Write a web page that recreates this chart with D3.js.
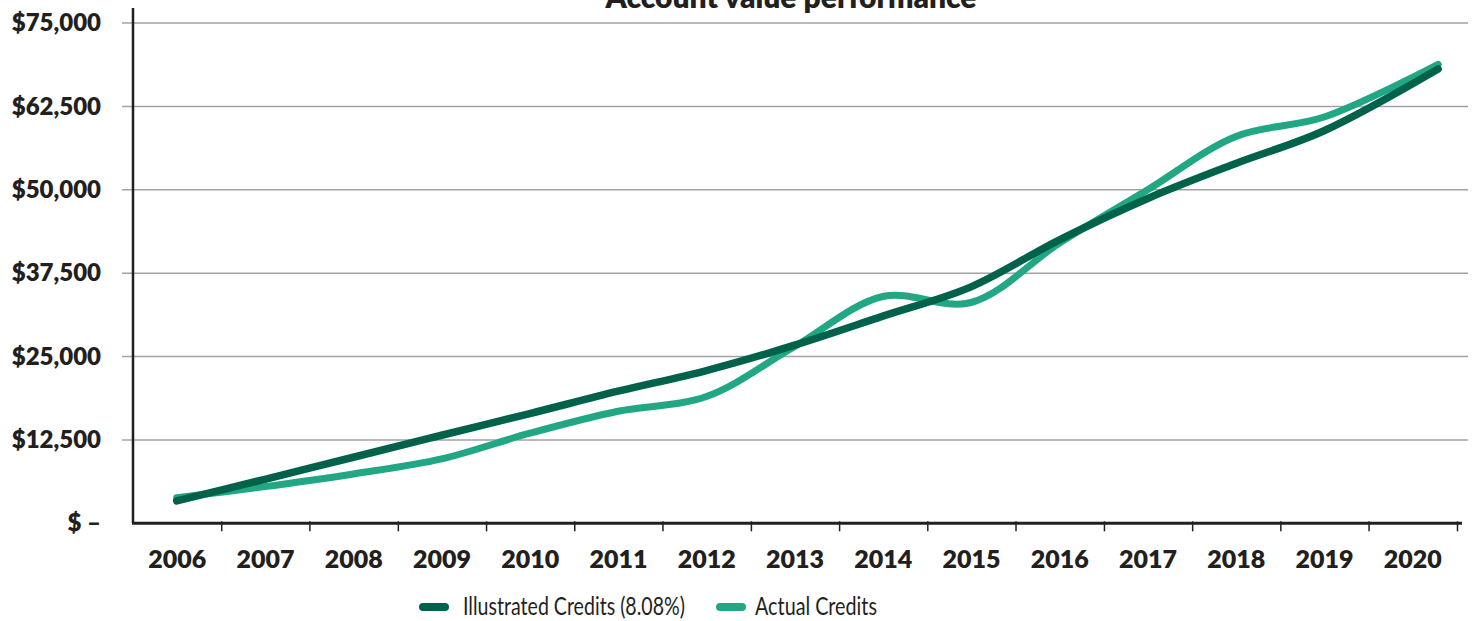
<!DOCTYPE html>
<html>
<head>
<meta charset="utf-8">
<script src="https://cdn.jsdelivr.net/npm/d3@7"></script>
<style>
  body { margin: 0; background: #fff; }
  svg { display: block; font-family: Lato, 'Open Sans', sans-serif; }
</style>
</head>
<body>
<svg id="svg-chart"></svg>
<script>
const chartTitle = 'Account value performance';
const years = ['2006', '2007', '2008', '2009', '2010', '2011', '2012', '2013',
  '2014', '2015', '2016', '2017', '2018', '2019', '2020'];
// valuation date of each point (mid-year, last one in the fall of 2020)
const valuationDates = ['2006-07-01', '2007-07-01', '2008-07-01', '2009-07-01',
  '2010-07-01', '2011-07-01', '2012-07-01', '2013-07-01', '2014-07-01',
  '2015-07-01', '2016-07-01', '2017-07-01', '2018-07-01', '2019-07-01', '2020-10-15'];
const illustratedCredits = [3350, 6600, 9900, 13200, 16450, 19800, 22900, 26700,
  31050, 35450, 42500, 48700, 53950, 58850, 68100];
const actualCredits = [3850, 5500, 7400, 9650, 13500, 16800, 19000, 26500,
  34000, 33100, 42000, 50000, 58000, 60900, 68800];
const yTicks = [0, 12500, 25000, 37500, 50000, 62500, 75000];
const yTickLabels = ['$ \u2013', '$12,500', '$25,000', '$37,500', '$50,000', '$62,500', '$75,000'];
const seriesNames = ['Illustrated Credits (8.08%)', 'Actual Credits'];
const seriesColors = ['#00624b', '#21a784'];

const width = 1473;
const height = 621;
const margin = { top: 23, right: 16, bottom: 98, left: 133 };
const ink = '#231f20';

const svg = d3.select('#svg-chart')
  .attr('width', width)
  .attr('height', height)
  .attr('viewBox', [0, 0, width, height]);

const parse = d3.timeParse('%Y-%m-%d');

const xTime = d3.scaleTime()
  .domain([new Date(2006, 0, 1), new Date(2021, 0, 1)])
  .range([margin.left, width - margin.right]);

const xBand = d3.scaleBand()
  .domain(years)
  .range([margin.left, width - margin.right]);

const y = d3.scaleLinear()
  .domain([0, 75000])
  .range([height - margin.bottom + 0.3, margin.top]);

// title (sits mostly above the frame)
svg.append('text')
  .attr('x', 791)
  .attr('y', 8)
  .attr('text-anchor', 'middle')
  .attr('font-size', 30)
  .attr('font-weight', 800)
  .attr('fill', ink)
  .text(chartTitle);

// gridlines
svg.append('g')
  .selectAll('line')
  .data(yTicks.slice(1))
  .join('line')
  .attr('x1', margin.left - 11)
  .attr('x2', width - 5)
  .attr('y1', d => y(d))
  .attr('y2', d => y(d))
  .attr('stroke', '#a3a3a3')
  .attr('stroke-width', 1.5);

// y labels
svg.append('g')
  .attr('transform', `translate(${margin.left},0)`)
  .call(d3.axisLeft(y)
    .tickValues(yTicks)
    .tickFormat((d, i) => yTickLabels[i])
    .tickSize(0)
    .tickPadding(32))
  .call(g => g.select('.domain').remove())
  .call(g => g.selectAll('text')
    .attr('font-family', 'Lato, sans-serif')
    .attr('font-size', 24)
    .attr('font-weight', 800)
    .attr('fill', ink));

// y axis line
svg.append('line')
  .attr('x1', margin.left)
  .attr('x2', margin.left)
  .attr('y1', 8)
  .attr('y2', y(0))
  .attr('stroke', ink)
  .attr('stroke-width', 2.5);

// x axis with ticks on year boundaries
const xAxis = g => g
  .attr('transform', `translate(0,${y(0)})`)
  .call(d3.axisBottom(xTime)
    .tickValues(d3.range(2007, 2022).map(yr => new Date(yr, 0, 1)))
    .tickFormat('')
    .tickSize(8)
    .tickSizeOuter(0))
  .call(g => g.select('.domain').remove())
  .call(g => g.selectAll('.tick line')
    .attr('y1', -2)
    .attr('stroke', ink)
    .attr('stroke-width', 1.5));

svg.append('g')
  .call(xAxis);

svg.append('line')
  .attr('x1', margin.left - 1)
  .attr('x2', width - 11)
  .attr('y1', y(0))
  .attr('y2', y(0))
  .attr('stroke', ink)
  .attr('stroke-width', 3);

svg.append('g')
  .attr('font-size', 25)
  .attr('font-weight', 800)
  .attr('fill', ink)
  .attr('text-anchor', 'middle')
  .selectAll('text')
  .data(years)
  .join('text')
  .attr('x', d => xBand(d) + xBand.bandwidth() / 2)
  .attr('y', 568)
  .text(d => d);

// lines
const series = [illustratedCredits, actualCredits].map((vals, k) => ({
  name: seriesNames[k],
  color: seriesColors[k],
  points: vals.map((v, i) => ({ date: parse(valuationDates[i]), value: v }))
}));

const line = d3.line()
  .x(d => xTime(d.date))
  .y(d => y(d.value))
  .curve(d3.curveCatmullRom);

svg.append('g')
  .selectAll('path')
  .data(series.slice().reverse())
  .join('path')
  .attr('fill', 'none')
  .attr('stroke', d => d.color)
  .attr('stroke-width', d => d.name === seriesNames[0] ? 7.5 : 7)
  .attr('stroke-linecap', 'round')
  .attr('stroke-linejoin', 'round')
  .attr('d', d => line(d.points));

// legend
const legendX = [420, 717];
const legendTextX = [43, 38];
const legendTextWidth = [222, 122];
const legend = svg.append('g')
  .selectAll('g')
  .data(series)
  .join('g')
  .attr('transform', (d, i) => `translate(${legendX[i]},607)`);

legend.append('line')
  .attr('x1', 3)
  .attr('x2', 25)
  .attr('stroke', d => d.color)
  .attr('stroke-width', 8)
  .attr('stroke-linecap', 'round');

legend.append('text')
  .attr('x', (d, i) => legendTextX[i])
  .attr('y', 8)
  .attr('font-size', 25)
  .attr('font-weight', 400)
  .attr('fill', ink)
  .attr('textLength', (d, i) => legendTextWidth[i])
  .attr('lengthAdjust', 'spacingAndGlyphs')
  .text(d => d.name);
</script>
</body>
</html>
